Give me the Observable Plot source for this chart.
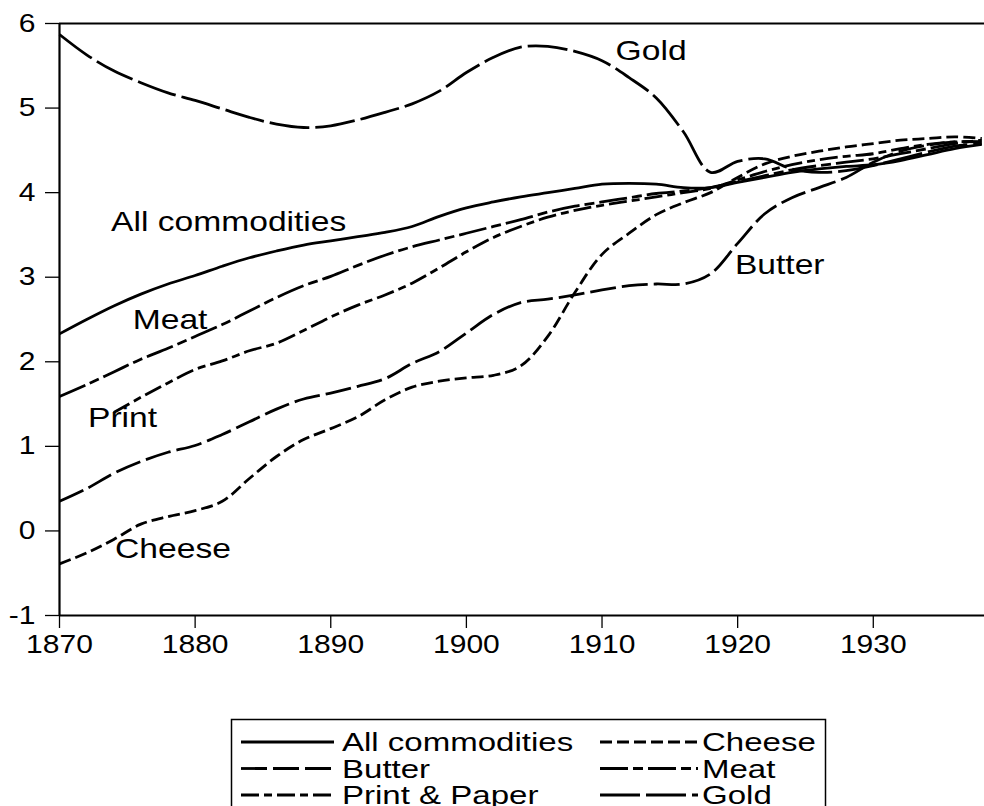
<!DOCTYPE html>
<html><head><meta charset="utf-8">
<script src="https://cdn.jsdelivr.net/npm/d3@7"></script>
<script src="https://cdn.jsdelivr.net/npm/@observablehq/plot@0.6"></script>
<style>
body{margin:0;background:#fff;font-family:"Liberation Sans",Arial,sans-serif;}
#wrap{position:relative;width:984px;height:806px;overflow:hidden;background:#fff;}
#wrap svg{display:block;}
#legend{position:absolute;left:0;top:700px;}
</style></head><body><div id="wrap"></div>
<script>
const years = [1870,1872,1874,1876,1878,1880,1882,1884,1886,1888,1890,1892,1894,1896,1898,1900,1902,1904,1906,1908,1910,1912,1914,1916,1918,1920,1922,1924,1926,1928,1930,1932,1934,1936,1938];
const allCommodities = [2.33,2.50,2.66,2.80,2.92,3.02,3.13,3.23,3.31,3.38,3.43,3.48,3.53,3.60,3.72,3.82,3.89,3.95,4.00,4.05,4.10,4.11,4.10,4.06,4.06,4.12,4.18,4.24,4.28,4.31,4.33,4.38,4.45,4.52,4.57];
const cheese = [-0.39,-0.26,-0.10,0.08,0.17,0.24,0.35,0.62,0.88,1.08,1.21,1.35,1.55,1.70,1.77,1.81,1.84,1.95,2.30,2.82,3.27,3.52,3.74,3.88,4.00,4.18,4.34,4.43,4.49,4.54,4.58,4.62,4.64,4.66,4.64];
const butter = [0.35,0.50,0.68,0.82,0.93,1.01,1.14,1.29,1.44,1.56,1.63,1.71,1.80,1.98,2.12,2.34,2.56,2.70,2.74,2.79,2.85,2.90,2.92,2.92,3.04,3.40,3.75,3.94,4.06,4.18,4.36,4.49,4.56,4.60,4.60];
const meat = [1.59,1.73,1.88,2.03,2.16,2.30,2.44,2.60,2.76,2.90,3.01,3.14,3.26,3.36,3.44,3.52,3.60,3.68,3.77,3.84,3.89,3.94,3.99,4.02,4.06,4.13,4.20,4.27,4.32,4.36,4.40,4.46,4.52,4.58,4.62];
const printPaper = [null,null,1.40,1.58,1.75,1.91,2.01,2.13,2.22,2.37,2.53,2.67,2.79,2.93,3.11,3.30,3.47,3.60,3.71,3.79,3.85,3.90,3.95,4.00,4.05,4.15,4.25,4.33,4.39,4.43,4.46,4.52,4.57,4.60,4.60];
const gold = [5.87,5.63,5.44,5.30,5.18,5.09,4.99,4.89,4.81,4.77,4.79,4.86,4.95,5.05,5.20,5.42,5.60,5.72,5.73,5.67,5.56,5.36,5.12,4.72,4.24,4.37,4.40,4.28,4.24,4.26,4.32,4.40,4.48,4.55,4.58];

const seriesNames = ["All commodities","Cheese","Butter","Meat","Print & Paper","Gold"];
const seriesValues = [allCommodities,cheese,butter,meat,printPaper,gold];
const seriesDash = ["none","12,5","26,6","28,5,10,5","18,5,8,5","40,6"];

const labelNames = ["Gold","All commodities","Meat","Print","Cheese","Butter"];
const labelX = [1911,1873.8,1875.4,1872.1,1874.1,1919.8];
const labelY = [5.68,3.65,2.49,1.33,-0.21,3.14];

const xTicks = [1870,1880,1890,1900,1910,1920,1930];
const yTicks = [-1,0,1,2,3,4,5,6];

const FONT = '"Liberation Sans", Arial, Helvetica, sans-serif';

const lineMarks = seriesNames.map((name,i) => {
  const rows = years.map((yr,j) => ({year: yr, value: seriesValues[i][j]}));
  return Plot.line(rows, {x:"year", y:"value", stroke:"#000", strokeWidth:2.8,
    strokeDasharray: seriesDash[i] === "none" ? undefined : seriesDash[i],
    curve:"catmull-rom", strokeLinecap:"butt"});
});

const labels = labelNames.map((t,i)=>({t, x:labelX[i], y:labelY[i]}));

const chart = Plot.plot({
  width:984, height:700,
  marginTop:23, marginBottom:85, marginLeft:59, marginRight:0,
  style:{fontFamily:FONT, fontSize:"25px", color:"#000", background:"#fff", overflow:"visible"},
  x:{domain:[1870,1938.2]},
  y:{domain:[-1,6]},
  marks:[
    Plot.axisY({ticks:yTicks, tickSize:14, tickPadding:10, label:null, fontSize:25, strokeWidth:1.3, tickFormat:d=>String(d)}),
    Plot.axisX({ticks:xTicks, tickSize:13, tickPadding:7, label:null, fontSize:25, strokeWidth:1.3, tickFormat:d=>String(d)}),
    ...lineMarks,
    Plot.ruleX([1870], {stroke:"#000", strokeWidth:2.2}),
    Plot.ruleY([-1], {stroke:"#000", strokeWidth:2.2}),
    Plot.ruleY([6], {stroke:"#000", strokeWidth:2.2}),
    Plot.text(labels, {x:"x", y:"y", text:"t", textAnchor:"start", fontSize:28, fill:"#000"})
  ]
});

const wrap = document.getElementById("wrap");
wrap.appendChild(chart);

// Legend (below the plot)
const lw = 984, lh = 106;
const leg = d3.create("svg").attr("id","legend").attr("width",lw).attr("height",lh)
  .attr("font-family",FONT).attr("font-size",26);
leg.append("rect").attr("x",231.5).attr("y",19.5).attr("width",594).attr("height",120)
  .attr("fill","#fff").attr("stroke","#000").attr("stroke-width",1.5);
const cols = [{sx:241, ex:334, tx:342},{sx:600, ex:698, tx:702}];
const rowsY = [42,68.5,95];
const order = [[0,1],[2,3],[4,5]];
order.forEach((pair,r)=>{
  pair.forEach((si,c)=>{
    const col = cols[c];
    leg.append("line").attr("x1",col.sx).attr("x2",col.ex).attr("y1",rowsY[r]).attr("y2",rowsY[r])
      .attr("stroke","#000").attr("stroke-width",2.8)
      .attr("stroke-dasharray", seriesDash[si]==="none"?null:seriesDash[si]);
    leg.append("text").attr("x",col.tx).attr("y",rowsY[r]).attr("dy","0.35em").text(seriesNames[si]);
  });
});
wrap.appendChild(leg.node());

function stretch(root, factor){
  root.querySelectorAll("text").forEach(t=>{
    const w = t.getComputedTextLength();
    if (w > 0) { t.setAttribute("textLength", (w*factor).toFixed(1)); t.setAttribute("lengthAdjust","spacingAndGlyphs"); }
  });
}
stretch(chart, 1.2);
stretch(leg.node(), 1.27);
</script></body></html>
